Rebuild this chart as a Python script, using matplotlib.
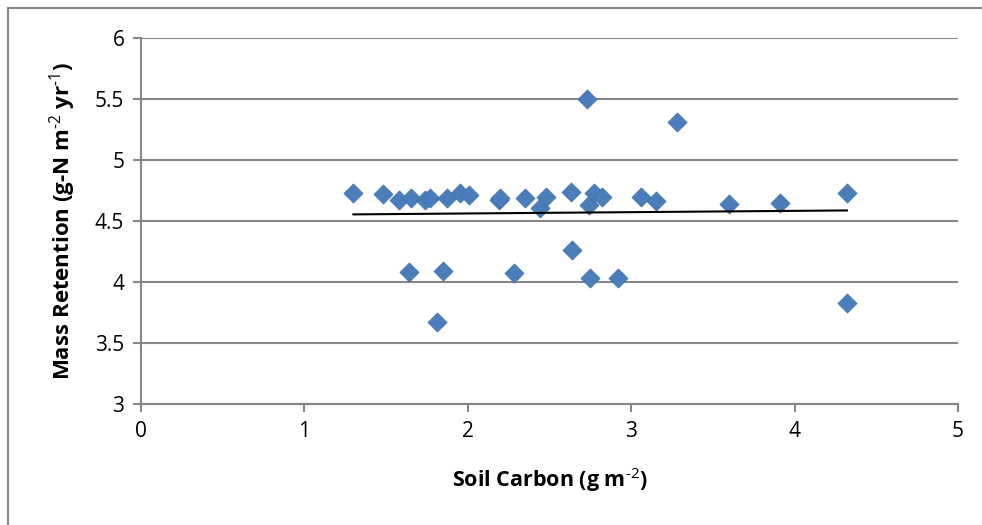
import numpy as np
import matplotlib.pyplot as plt
from matplotlib.lines import Line2D

# soil carbon vs mass retention
soil_carbon = [1.30, 1.48, 1.58, 1.65, 1.74, 1.77, 1.87, 1.95, 2.01, 2.19, 2.20,
               2.35, 2.44, 2.48, 2.63, 2.73, 2.74, 2.77, 2.82, 3.06, 3.15, 3.60,
               3.91, 4.32, 4.32, 1.64, 1.85, 2.28, 1.81, 2.64, 2.75, 2.92, 3.28]
mass_retention = [4.73, 4.72, 4.67, 4.69, 4.67, 4.69, 4.69, 4.73, 4.71, 4.67, 4.69,
                  4.69, 4.61, 4.70, 4.74, 5.50, 4.63, 4.73, 4.70, 4.70, 4.66, 4.64,
                  4.65, 4.73, 3.83, 4.08, 4.09, 4.07, 3.67, 4.26, 4.03, 4.03, 5.31]
xticks = [0, 1, 2, 3, 4, 5]
yticks = [3, 3.5, 4, 4.5, 5, 5.5, 6]

plt.rcParams['font.family'] = ['Open Sans', 'DejaVu Sans']
plt.rcParams['mathtext.fontset'] = 'custom'
plt.rcParams['mathtext.rm'] = 'Open Sans'
plt.rcParams['mathtext.bf'] = 'Open Sans:bold'

fig = plt.figure(figsize=(9.82, 5.25), dpi=100)
ax = fig.add_axes([141/982, 1-404/525, (958-141)/982, (404-38)/525])

# outer chart frame (left and top edges)
fig.add_artist(Line2D([8/982, 8/982], [0, 1-8/525], color='#868686', lw=1.5))
fig.add_artist(Line2D([8/982, 1], [1-8/525, 1-8/525], color='#868686', lw=1.5))

x = np.array(soil_carbon)
y = np.array(mass_retention)
ax.scatter(x, y, marker='D', s=95, color='#4a7ebb', edgecolors='#3f6fa8',
           linewidths=0.5, zorder=3)

# linear trendline
m, b = np.polyfit(x, y, 1)
xl = np.array([x.min(), x.max()])
ax.plot(xl, m*xl + b, color='black', lw=1.5, zorder=4)

ax.set_xlim(0, 5)
ax.set_ylim(3, 6)
ax.set_xticks(xticks)
ax.set_yticks(yticks)
ax.set_xticklabels([str(t) for t in xticks])
ax.set_yticklabels([('%g' % t) for t in yticks])
ax.yaxis.grid(True, color='#868686', lw=1.5)
ax.set_axisbelow(True)
for s in ['top', 'right']:
    ax.spines[s].set_visible(False)
for s in ['left', 'bottom']:
    ax.spines[s].set_color('#868686')
    ax.spines[s].set_linewidth(1.5)
ax.tick_params(axis='both', direction='out', length=6, width=1.5, color='#868686',
               labelsize=15, pad=6)

ax.set_xlabel(r'Soil Carbon (g m$^{\mathbf{\text{-2}}}$)', fontsize=15.5,
              fontweight='bold', labelpad=17)
ax.set_ylabel(r'Mass Retention (g-N m$^{\mathbf{\text{-2}}}$ yr$^{\mathbf{\text{-1}}}$)',
              fontsize=16, fontweight='bold', labelpad=12)

fig.savefig('out.png', dpi=100)
